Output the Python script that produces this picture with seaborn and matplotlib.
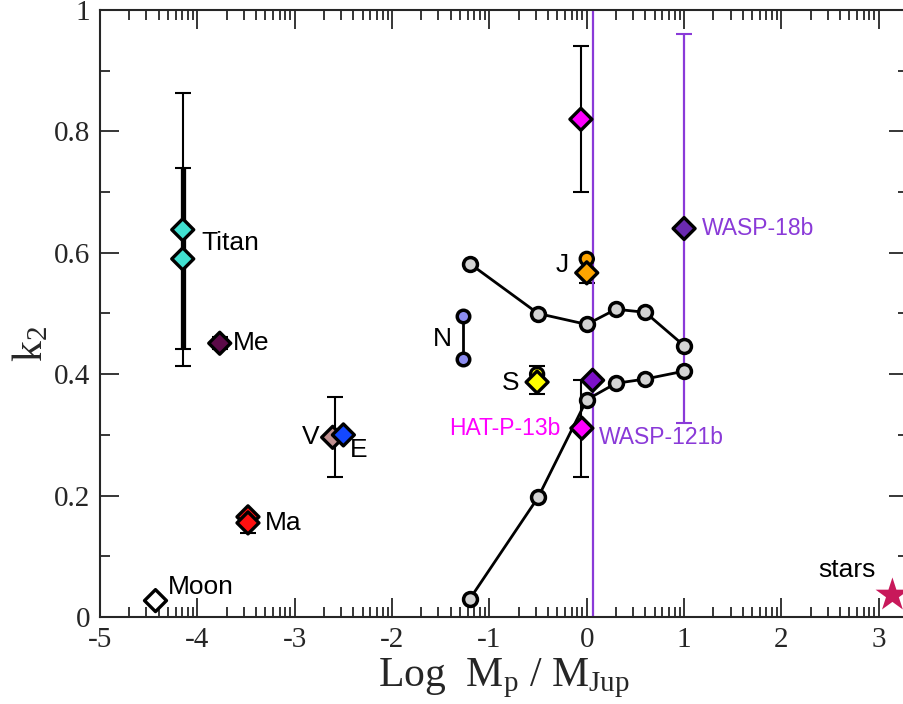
import numpy as np
import pandas as pd
import matplotlib
matplotlib.use("Agg")
import matplotlib.pyplot as plt
import seaborn as sns
from matplotlib.ticker import FixedLocator, FuncFormatter

# --- measured bodies (diamonds) ---
body = ["Titan a", "Titan b", "Me", "V", "E", "Ma a", "Ma b", "Moon",
        "J", "S", "HAT-P-13b", "HAT-P-13b hi", "WASP-121b", "WASP-18b"]
body_logm = [-4.15, -4.15, -3.77, -2.61, -2.50, -3.48, -3.48, -4.43,
             0.0, -0.51, -0.05, -0.06, 0.06, 1.0]
body_k2 = [0.638, 0.590, 0.451, 0.296, 0.300, 0.165, 0.155, 0.027,
           0.567, 0.387, 0.311, 0.82, 0.39, 0.64]
body_color = ["#40e0d0", "#40e0d0", "#5c0a48", "#c09090", "#1448ff", "#ff1010",
              "#ff1010", "#ffffff", "#ffa500", "#ffff00", "#ff00ff", "#ff00ff",
              "#7d10c8", "#6a2ab0"]

# --- error bars ---
err_logm = [-4.15, -4.15, -3.77, -2.59, -3.48, -0.51, 0.0, -0.06, -0.06, 1.0, 0.06]
err_k2 = [0.638, 0.590, 0.451, 0.296, 0.155, 0.387, 0.567, 0.311, 0.82, 0.64, 0.39]
err_lo = [0.413, 0.441, 0.441, 0.230, 0.138, 0.367, 0.550, 0.230, 0.70, 0.32, -1.0]
err_hi = [0.863, 0.740, 0.461, 0.362, 0.170, 0.413, 0.590, 0.390, 0.94, 0.96, 2.0]
err_color = ["black"] * 9 + ["#8a3ad8", "#8a3ad8"]
err_lw = [1.5, 3.8, 1.5, 1.5, 1.5, 1.5, 1.5, 1.5, 1.5, 1.6, 1.6]

# --- circles: Jupiter / Saturn second estimates, Neptune ---
circ_logm = [0.0, -0.51]
circ_k2 = [0.590, 0.400]
circ_color = ["#ffa500", "#ffff00"]
nep_logm = [-1.27, -1.27]
nep_k2 = [0.496, 0.425]

# --- model tracks ---
track_logm = [-1.2, -0.5, 0.0, 0.3, 0.6, 1.0]
track_upper = [0.582, 0.500, 0.482, 0.507, 0.502, 0.447]
track_lower = [0.030, 0.197, 0.358, 0.385, 0.392, 0.405]

# --- stars ---
star_logm = [3.14]
star_k2 = [0.036]

# --- labels ---
lab_text = ["Titan", "Me", "V", "E", "Ma", "Moon", "N", "S", "J",
            "HAT-P-13b", "WASP-121b", "WASP-18b", "stars"]
lab_x = [-3.96, -3.64, -2.74, -2.43, -3.31, -4.30, -1.39, -0.69, -0.18,
         -0.27, 0.12, 1.18, 2.67]
lab_y = [0.616, 0.451, 0.296, 0.275, 0.155, 0.050, 0.458, 0.385, 0.580,
         0.311, 0.296, 0.640, 0.077]
lab_ha = ["left", "left", "right", "left", "left", "left", "right", "right", "right",
          "right", "left", "left", "center"]
lab_color = ["black"] * 9 + ["#ff00ff", "#8a3ad8", "#8a3ad8", "black"]
lab_size = [19, 19, 19, 19, 19, 19, 19, 19, 19, 16.5, 16.5, 16.5, 19]

sns.set_style("ticks")
plt.rcParams["font.family"] = ["Liberation Serif", "DejaVu Serif"]
plt.rcParams["mathtext.fontset"] = "custom"
plt.rcParams["mathtext.rm"] = "Liberation Serif"
plt.rcParams["mathtext.it"] = "Liberation Serif:italic"

fig = plt.figure(figsize=(9.04, 7.04), dpi=100)
ax = fig.add_axes([100 / 904, 87 / 704, 808 / 904, 607 / 704])

# error bars
for x, y, lo, hi, c, lw in zip(err_logm, err_k2, err_lo, err_hi, err_color, err_lw):
    ax.errorbar(x, y, yerr=[[y - lo], [hi - y]], fmt="none", ecolor=c,
                elinewidth=lw, capsize=6, capthick=1.5, zorder=2)

# model tracks
for vals in [track_upper, track_lower]:
    sns.lineplot(x=track_logm, y=vals, ax=ax, color="black", lw=2, sort=False,
                 estimator=None, marker="o", markersize=10,
                 markerfacecolor="#d3d3d3", markeredgecolor="black",
                 markeredgewidth=2.5, zorder=3)

# Neptune
sns.lineplot(x=nep_logm, y=nep_k2, ax=ax, color="black", lw=2, sort=False,
             estimator=None, marker="o", markersize=9, markerfacecolor="#8c8cf0",
             markeredgecolor="black", markeredgewidth=2.5, zorder=3)

# circles
sns.scatterplot(x=circ_logm, y=circ_k2, ax=ax, hue=[str(i) for i in range(len(circ_logm))],
                palette=circ_color, marker="o", s=90, edgecolor="black",
                linewidth=2.3, legend=False, zorder=4)

# diamonds
sns.scatterplot(x=body_logm, y=body_k2, ax=ax, hue=body,
                palette=dict(zip(body, body_color)), marker="D", s=125,
                edgecolor="black", linewidth=2.4, legend=False, zorder=5)

# stars
sns.scatterplot(x=star_logm, y=star_k2, ax=ax, color="#c8185a", marker="*",
                s=650, edgecolor="none", legend=False, zorder=5, clip_on=False)

for t, x, y, ha, c, fs in zip(lab_text, lab_x, lab_y, lab_ha, lab_color, lab_size):
    ax.text(x, y, t, ha=ha, va="center", color=c, fontsize=fs,
            family=["Liberation Sans", "DejaVu Sans"])

ax.set_xlim(-5, 3.3)
ax.set_ylim(0, 1)

major_x = np.arange(-5, 4)
minor_x = [m + np.log10(k) for m in range(-5, 4) for k in range(2, 10)]
ax.xaxis.set_major_locator(FixedLocator(major_x))
ax.xaxis.set_minor_locator(FixedLocator(minor_x))
ax.yaxis.set_major_locator(FixedLocator(np.arange(0, 1.01, 0.2)))
ax.yaxis.set_minor_locator(FixedLocator(np.arange(0.1, 1.0, 0.2)))
ax.yaxis.set_major_formatter(FuncFormatter(lambda v, p: f"{v:g}"))
ax.xaxis.set_major_formatter(FuncFormatter(lambda v, p: f"{v:g}"))

ax.tick_params(which="both", direction="in", top=True, right=True,
               labelsize=21, width=1.3, pad=7)
ax.tick_params(which="major", length=14)
ax.tick_params(which="minor", length=7)
for sp in ax.spines.values():
    sp.set_linewidth(1.5)

ax.set_xlabel(r"Log  M$_{\rm p}$ / M$_{\rm Jup}$", fontsize=30)
ax.xaxis.set_label_coords(0.5, -0.065)
ax.set_ylabel(r"k$_2$", fontsize=30, rotation=90)
ax.yaxis.set_label_coords(-0.06, 0.45)

fig.savefig("out.png", dpi=100)
